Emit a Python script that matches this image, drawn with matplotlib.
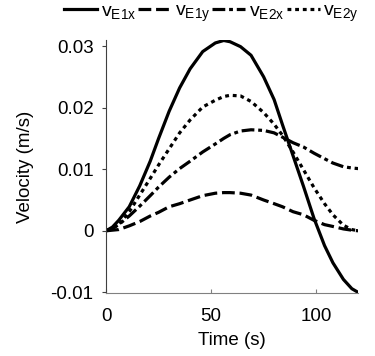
import matplotlib
matplotlib.use('Agg')
import matplotlib.pyplot as plt

plt.rcParams['font.family'] = ['Liberation Sans', 'DejaVu Sans']
plt.rcParams['mathtext.fontset'] = 'custom'
plt.rcParams['mathtext.rm'] = 'Liberation Sans'
plt.rcParams['mathtext.it'] = 'Liberation Sans'

t = [0, 3, 6, 11, 16, 21, 25, 30, 35, 40, 46, 52, 56, 59, 64, 69, 75, 80, 84,
     89, 94, 99, 104, 108, 113, 117, 120]
v_e1x = [0, 0.0006, 0.0017, 0.0039, 0.0073, 0.0113, 0.015, 0.0194, 0.0232, 0.0263,
         0.0291, 0.0305, 0.0309, 0.0307, 0.0299, 0.0285, 0.025, 0.0213, 0.0172,
         0.0122, 0.0072, 0.002, -0.0024, -0.0052, -0.0079, -0.0094, -0.01]
v_e1y = [0, 0.0001, 0.0002, 0.0008, 0.0015, 0.0024, 0.003, 0.0039, 0.0044, 0.005,
         0.0057, 0.0061, 0.0062, 0.0062, 0.0061, 0.0058, 0.005, 0.0044, 0.0039,
         0.0031, 0.0026, 0.0017, 0.001, 0.0007, 0.0003, 0.0001, 0]
v_e2x = [0, 0.0004, 0.001, 0.0024, 0.004, 0.0057, 0.0071, 0.0087, 0.0101, 0.0113,
         0.0128, 0.0141, 0.015, 0.0156, 0.0162, 0.0164, 0.0163, 0.0159, 0.0152,
         0.0143, 0.0136, 0.0126, 0.0117, 0.011, 0.0104, 0.0102, 0.0101]
v_e2y = [0, 0.0004, 0.001, 0.0031, 0.0058, 0.0085, 0.0107, 0.0133, 0.0159, 0.018,
         0.0201, 0.0212, 0.0218, 0.022, 0.0219, 0.021, 0.0192, 0.0173, 0.0155,
         0.0128, 0.0099, 0.007, 0.0044, 0.0026, 0.0009, 0.0002, 0]

labels = ['v$_{\\mathrm{E1x}}$', 'v$_{\\mathrm{E1y}}$', 'v$_{\\mathrm{E2x}}$', 'v$_{\\mathrm{E2y}}$']
styles = ['-', (0, (4, 1.5)), (0, (4, 1.2, 1.2, 1.2)), (0, (1.2, 1.2))]

fig = plt.figure(figsize=(3.75, 3.56), dpi=100)
ax = fig.add_axes([0.283, 0.177, 0.672, 0.711])

for vals, lab, ls in zip([v_e1x, v_e1y, v_e2x, v_e2y], labels, styles):
    ax.plot(t, vals, color='black', lw=2.3, ls=ls, label=lab)

ax.set_xlim(0, 120)
ax.set_ylim(-0.0101, 0.031)
ax.set_xticks([0, 50, 100])
ax.set_yticks([-0.01, 0, 0.01, 0.02, 0.03])
ax.set_yticklabels(['-0.01', '0', '0.01', '0.02', '0.03'])
ax.spines['top'].set_visible(False)
ax.spines['right'].set_visible(False)
ax.spines['left'].set_color('#404040')
ax.spines['bottom'].set_color('#808080')
ax.tick_params(axis='y', direction='out', length=3, labelsize=13.5, color='#404040', pad=6)
ax.tick_params(axis='x', direction='in', length=3, labelsize=13.5, color='#808080', pad=11)
ax.set_xlabel('Time (s)', fontsize=13.5, labelpad=5)
ax.set_ylabel('Velocity (m/s)', fontsize=13.5, labelpad=12)

fig.legend(loc='upper left', bbox_to_anchor=(0.165, 1.0), ncol=4, frameon=False,
           fontsize=14, handlelength=1.7, handletextpad=0.2, columnspacing=0.1,
           borderpad=0.1, borderaxespad=0)

fig.savefig('out.png', dpi=100)
